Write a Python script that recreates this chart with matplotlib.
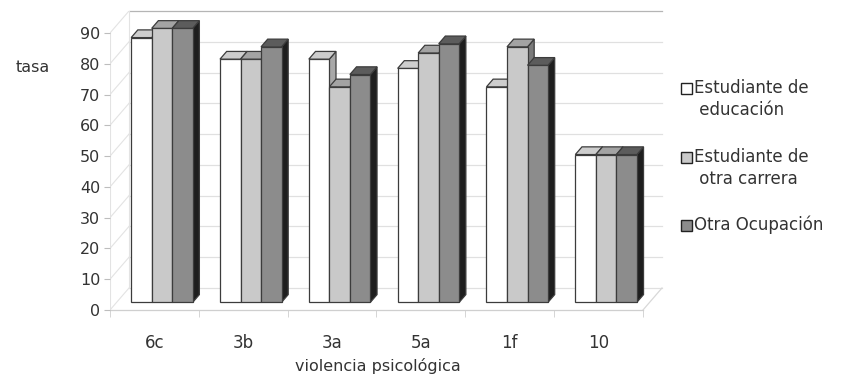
import matplotlib
matplotlib.use('Agg')
import matplotlib.pyplot as plt
from matplotlib.patches import Polygon, Rectangle

categorias = ['6c', '3b', '3a', '5a', '1f', '10']
est_educacion = [86, 79, 79, 76, 70, 48]
est_otra_carrera = [89, 79, 70, 81, 83, 48]
otra_ocupacion = [89, 83, 74, 84, 77, 48]
leyenda = [['Estudiante de', ' educación'],
           ['Estudiante de', ' otra carrera'],
           ['Otra Ocupación']]
yticks = list(range(0, 100, 10))

# colores de cara frontal / techo / lado para cada serie
cara = ['#ffffff', '#c9c9c9', '#8c8c8c']
techo = ['#cdcdcd', '#a3a3a3', '#5c5c5c']
lado = ['#a8a8a8', '#7a7a7a', '#1e1e1e']
borde = '#3c3c3c'
texto = '#333333'

W, H = 841, 377
fig = plt.figure(figsize=(W / 100, H / 100), dpi=100)

# eje: borde izquierdo = frente del piso, borde superior = tope de la pared del fondo
x0, x1, yb, yt = 110, 663, 310, 11
ax = fig.add_axes([x0 / W, (H - yb) / H, (x1 - x0) / W, (yb - yt) / H])
px_x = 88.83   # px por categoria
px_y = 3.078   # px por unidad de tasa
ax.set_xlim(0, (x1 - x0) / px_x)
ax.set_ylim(0, (yb - yt) / px_y)
DX = 19 / px_x   # desplazamiento de profundidad
DY = 22 / px_y
n = len(categorias)

# paredes y piso
for v in yticks:
    c = '#b5b5b5' if v == yticks[-1] else '#e0e0e0'
    ax.plot([DX, n + DX], [v + DY, v + DY], color=c, lw=0.9, zorder=1, clip_on=False)
    ax.plot([0, DX], [v, v + DY], color='#e3e3e3', lw=0.8, zorder=1)
ax.plot([0, 0], [0, yticks[-1]], color='#e3e3e3', lw=0.8, zorder=1)
ax.plot([DX, DX], [DY, yticks[-1] + DY], color='#e3e3e3', lw=0.8, zorder=1)
ax.plot([0, n], [0, 0], color='#cfcfcf', lw=0.9, zorder=1, clip_on=False)
ax.plot([n, n + DX], [0, DY], color='#d8d8d8', lw=0.9, zorder=1)

# columnas 3D
w = 0.231
t0, t1 = 0.35, 0.70
dx, dy = (t1 - t0) * DX, (t1 - t0) * DY
datos = [est_educacion, est_otra_carrera, otra_ocupacion]
for i in range(n):
    for s, vals in enumerate(datos):
        v = vals[i]
        xl = i + 0.5 - 1.5 * w + s * w + t0 * DX + 0.01
        b = t0 * DY
        z = 3 + s
        lado_p = [(xl + w, b), (xl + w + dx, b + dy), (xl + w + dx, b + v + dy), (xl + w, b + v)]
        techo_p = [(xl, b + v), (xl + w, b + v), (xl + w + dx, b + v + dy), (xl + dx, b + v + dy)]
        ax.add_patch(Polygon(lado_p, closed=True, fc=lado[s], ec=borde, lw=0.9, zorder=z))
        ax.add_patch(Polygon(techo_p, closed=True, fc=techo[s], ec=borde, lw=0.9, zorder=z + 0.2))
        ax.bar(xl, v, width=w, bottom=b, align='edge', color=cara[s],
               edgecolor=borde, lw=0.9, zorder=z + 0.1)

for sp in ax.spines.values():
    sp.set_visible(False)
ax.set_yticks(yticks)
ax.set_yticklabels([str(v) for v in yticks])
ax.tick_params(axis='y', length=4, color='#bdbdbd', labelsize=11.5, labelcolor=texto, pad=3)
ax.set_xticks([i + 0.5 for i in range(n)])
ax.set_xticklabels(categorias)
ax.set_xticks(list(range(n + 1)), minor=True)
ax.tick_params(axis='x', which='major', length=0, labelsize=12, labelcolor=texto, pad=17)
ax.tick_params(axis='x', which='minor', length=5, color='#cfcfcf')

fig.text(33 / W, 1 - 68 / H, 'tasa', ha='center', va='center', fontsize=11.5, color=texto)
fig.text(378 / W, 1 - 366 / H, 'violencia psicológica', ha='center', va='center',
         fontsize=11.5, color=texto)

# leyenda
filas = [88, 157, 225]
for s, (y, lineas) in enumerate(zip(filas, leyenda)):
    fig.patches.append(Rectangle((681 / W, 1 - (y + 6) / H), 11 / W, 11 / H,
                                 transform=fig.transFigure, fc=cara[s], ec='#222222', lw=1.0))
    for k, t in enumerate(lineas):
        fig.text(694 / W, 1 - (y + 22 * k) / H, t, ha='left', va='center',
                 fontsize=12, color=texto)

fig.savefig('out.png', dpi=100, facecolor='white')
